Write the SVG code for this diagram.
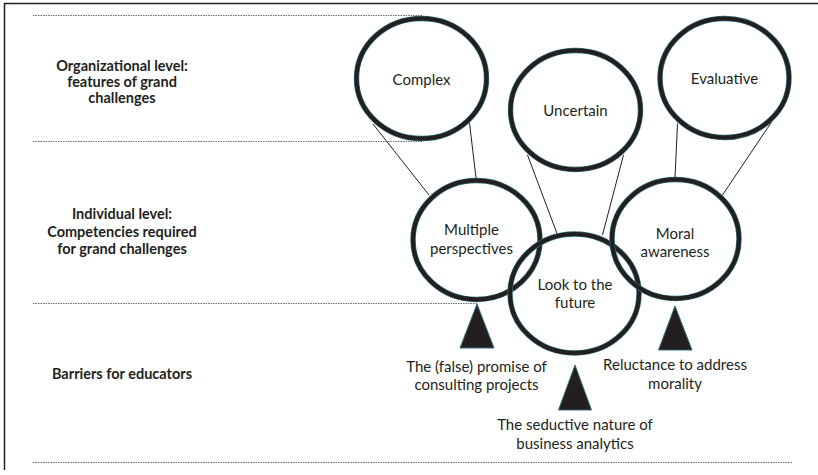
<svg xmlns="http://www.w3.org/2000/svg" width="818" height="475" viewBox="0 0 818 475">
  <style>
    .frame { stroke: #231f20; stroke-width: 1.5; fill: none; }
    .divider { stroke: #6d6d6d; stroke-width: 1; stroke-dasharray: 1.5 1; fill: none; }
    .ring-edge { fill: none; stroke: #2f6f78; stroke-width: 5.4; }
    .ring { fill: none; stroke: #231f20; stroke-width: 4; }
    .link { stroke: #231f20; stroke-width: 1; fill: none; }
    .barrier { fill: #231f20; stroke: #2f6f78; stroke-width: 1; }
    text { font-family: Lato, "Liberation Sans", sans-serif; fill: #231f20; text-anchor: middle; }
    .node-label { font-size: 15px; }
    .level { font-size: 14.5px; font-weight: bold; }
  </style>

  <!-- outer frame (top and left edges) -->
  <polyline class="frame" points="4.5,470 4.5,3.5 818,3.5"/>

  <!-- row dividers -->
  <g id="dividers">
    <line class="divider" x1="33" y1="15.5" x2="422" y2="15.5"/>
    <line class="divider" x1="33" y1="141.5" x2="422" y2="141.5"/>
    <line class="divider" x1="33" y1="303.5" x2="478" y2="303.5"/>
    <line class="divider" x1="33" y1="462.5" x2="792" y2="462.5"/>
  </g>

  <!-- row headings -->
  <g id="level-organizational">
    <text class="level" x="122" y="71">Organizational level:</text>
    <text class="level" x="122" y="87">features of grand</text>
    <text class="level" x="122" y="103">challenges</text>
  </g>
  <g id="level-individual">
    <text class="level" x="122" y="219">Individual level:</text>
    <text class="level" x="122" y="236.5">Competencies required</text>
    <text class="level" x="122" y="254">for grand challenges</text>
  </g>
  <g id="level-barriers">
    <text class="level" x="122" y="379">Barriers for educators</text>
  </g>

  <!-- connectors between features and competencies -->
  <g id="connectors">
    <line class="link" x1="373" y1="124" x2="429" y2="195"/>
    <line class="link" x1="469.5" y1="123" x2="476" y2="178"/>
    <line class="link" x1="527.5" y1="155" x2="557" y2="233.5"/>
    <line class="link" x1="623.5" y1="155" x2="602.5" y2="235"/>
    <line class="link" x1="677.5" y1="123.5" x2="675" y2="178"/>
    <line class="link" x1="771.5" y1="122" x2="722.5" y2="195"/>
  </g>

  <!-- features of grand challenges -->
  <g id="node-complex">
    <ellipse class="ring-edge" cx="421.5" cy="78.5" rx="65" ry="60"/>
    <ellipse class="ring" cx="421.5" cy="78.5" rx="65" ry="60"/>
    <text class="node-label" x="421.5" y="84.5">Complex</text>
  </g>
  <g id="node-uncertain">
    <ellipse class="ring-edge" cx="575.5" cy="110" rx="65" ry="59.5"/>
    <ellipse class="ring" cx="575.5" cy="110" rx="65" ry="59.5"/>
    <text class="node-label" x="575.5" y="116">Uncertain</text>
  </g>
  <g id="node-evaluative">
    <ellipse class="ring-edge" cx="724.5" cy="78" rx="64.5" ry="59.5"/>
    <ellipse class="ring" cx="724.5" cy="78" rx="64.5" ry="59.5"/>
    <text class="node-label" x="724.5" y="83.5">Evaluative</text>
  </g>

  <!-- competencies -->
  <g id="node-multiple-perspectives">
    <ellipse class="ring-edge" cx="476.5" cy="240" rx="63.5" ry="59.5"/>
    <ellipse class="ring" cx="476.5" cy="240" rx="63.5" ry="59.5"/>
    <text class="node-label" x="471.5" y="235">Multiple</text>
    <text class="node-label" x="471.5" y="253.5">perspectives</text>
  </g>
  <g id="node-look-to-the-future">
    <ellipse class="ring-edge" cx="574.5" cy="293.5" rx="64.5" ry="59.5"/>
    <ellipse class="ring" cx="574.5" cy="293.5" rx="64.5" ry="59.5"/>
    <text class="node-label" x="575" y="289.5">Look to the</text>
    <text class="node-label" x="575" y="308">future</text>
  </g>
  <g id="node-moral-awareness">
    <ellipse class="ring-edge" cx="675.5" cy="239" rx="63.5" ry="59.5"/>
    <ellipse class="ring" cx="675.5" cy="239" rx="63.5" ry="59.5"/>
    <text class="node-label" x="675" y="238.5">Moral</text>
    <text class="node-label" x="675" y="256.5">awareness</text>
  </g>

  <!-- barriers -->
  <g id="barrier-consulting">
    <polygon class="barrier" points="477,304 460,348 494,348"/>
    <text class="node-label" x="476.5" y="371.5">The (false) promise of</text>
    <text class="node-label" x="476.5" y="390">consulting projects</text>
  </g>
  <g id="barrier-analytics">
    <polygon class="barrier" points="575,365 558.5,410 591.5,410"/>
    <text class="node-label" x="575" y="430">The seductive nature of</text>
    <text class="node-label" x="575" y="448.5">business analytics</text>
  </g>
  <g id="barrier-morality">
    <polygon class="barrier" points="675,306 658.5,350 692,350"/>
    <text class="node-label" x="675" y="370">Reluctance to address</text>
    <text class="node-label" x="675" y="388.5">morality</text>
  </g>
</svg>
